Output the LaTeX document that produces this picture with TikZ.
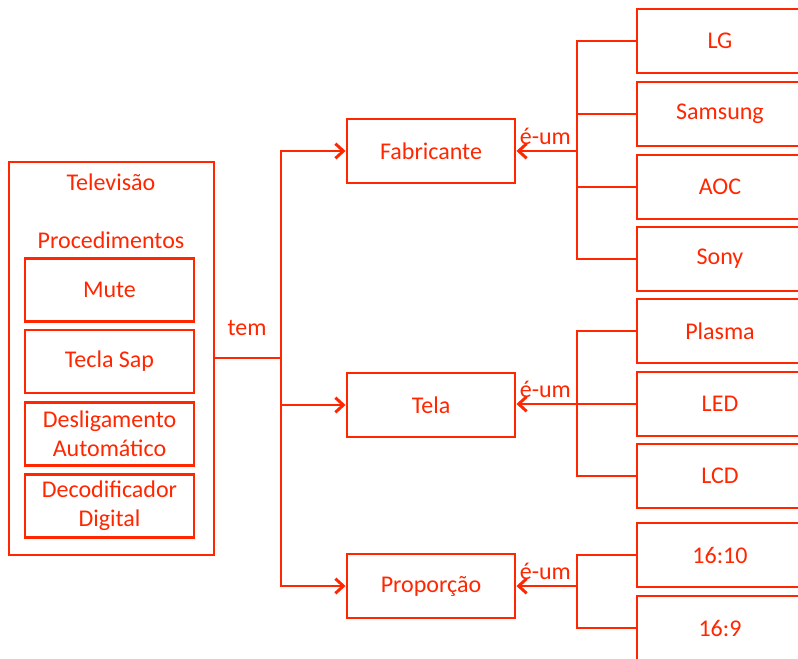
\documentclass[tikz,border=0pt]{standalone}
\usepackage{fontspec}
\setmainfont{Carlito}
\usetikzlibrary{positioning,calc,arrows.meta}
\definecolor{tvred}{RGB}{255,38,0}

\begin{document}
\begin{tikzpicture}[x=0.75pt, y=-0.75pt, every node/.style={font=\fontsize{18}{22}\selectfont, text=tvred}]
            \tikzstyle{box}=[rectangle, draw=tvred, line width=2.2pt, minimum width=126pt, minimum height=48pt, inner sep=0pt, align=center]
            \tikzstyle{item}=[box, minimum width=124.5pt]
            \tikzstyle{proc}=[box, minimum width=126.75pt, minimum height=47.25pt]
            \tikzstyle{link}=[draw=tvred, line width=2.2pt]
            \tikzstyle{arr}=[link, -{Straight Barb[length=6pt, width=11pt, line width=2.2pt]}]
            \useasboundingbox (0,0) rectangle (798,659);
            \clip (0,0) rectangle (798,659);
            % televisao
            \node[box, minimum width=153.75pt, minimum height=294.75pt] (tv) at (111.5,358.5) {};
            \node (tvtitle) at (111,182) {Televisão};
            \node (proctitle) at (111,240) {Procedimentos};
            \node[proc] (mute) at (109.5,290) {Mute};
            \node[proc] (sap) at (109.5,361.5) {Tecla Sap};
            \node[proc] (desl) at (109.5,434) {Desligamento\\Automático};
            \node[proc] (deco) at (109.5,506) {Decodificador\\Digital};
            % classes
            \node[box] (fab) at (431,151) {Fabricante};
            \node[box] (tela) at (431,405) {Tela};
            \node[box] (prop) at (431,586) {Proporção};
            % subclasses
            \node[item] (lg) at (720,41) {LG};
            \node[item] (samsung) at (720,114) {Samsung};
            \node[item] (aoc) at (720,187) {AOC};
            \node[item] (sony) at (720,259) {Sony};
            \node[item] (plasma) at (720,331) {Plasma};
            \node[item] (led) at (720,404) {LED};
            \node[item] (lcd) at (720,476) {LCD};
            \node[item] (r1610) at (720,555) {16:10};
            \node[item] (r169) at (720,628) {16:9};
            % tem
            \coordinate (split) at (281,358);
            \draw[link] (tv.east |- split) -- (split);
            \node (tem) at (247,328) {tem};
            \draw[arr] (split) |- (fab.west);
            \draw[arr] (split) |- (tela.west);
            \draw[arr] (split) |- (prop.west);
            % e-um
            \coordinate (fabj) at (577,151);
            \coordinate (telaj) at (577,404);
            \coordinate (propj) at (577,586);
            \foreach \b in {lg,samsung,aoc,sony} \draw[link] (\b.west) -| (fabj);
            \foreach \b in {plasma,led,lcd} \draw[link] (\b.west) -| (telaj);
            \foreach \b in {r1610,r169} \draw[link] (\b.west) -| (propj);
            \draw[arr] (fabj) -- (fab.east |- fabj);
            \draw[arr] (telaj) -- (tela.east |- telaj);
            \draw[arr] (propj) -- (prop.east |- propj);
            \node[above right=1pt and -1pt] at (fab.east |- fabj) {é-um};
            \node[above right=1pt and -1pt] at (tela.east |- telaj) {é-um};
            \node[above right=1pt and -1pt] at (prop.east |- propj) {é-um};
        \end{tikzpicture}
\end{document}
